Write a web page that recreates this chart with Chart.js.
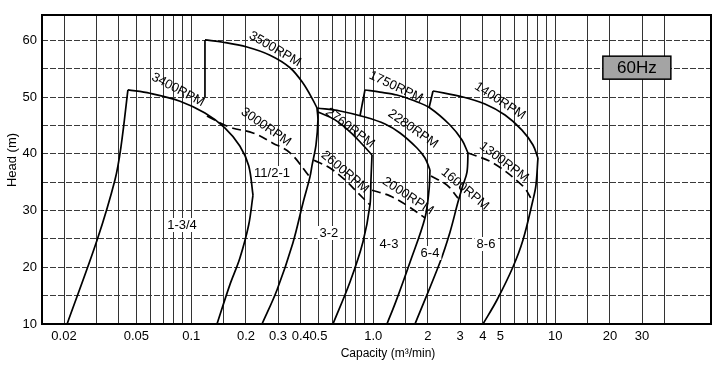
<!DOCTYPE html>
<html>
<head>
<meta charset="utf-8">
<script src="https://cdn.jsdelivr.net/npm/chart.js@4.4.1/dist/chart.umd.min.js"></script>
<style>
  html, body { margin: 0; padding: 0; background: #fff; }
  #wrap { width: 720px; height: 366px; }
</style>
</head>
<body>
<div id="wrap"><canvas id="pump-chart" width="720" height="366"></canvas></div>
<script>
// capacity axis (m3/min), log scale
const capGrid = [0.02, 0.03, 0.04, 0.05, 0.06, 0.07, 0.08, 0.09, 0.1, 0.15, 0.2, 0.3, 0.4, 0.5, 0.6, 0.7, 0.8, 0.9, 1, 1.5, 2, 3, 4, 5, 6, 7, 8, 9, 10, 15, 20, 30, 40];
const capTicks = [0.02, 0.05, 0.1, 0.2, 0.3, 0.4, 0.5, 1, 2, 3, 4, 5, 10, 20, 30];
const capTickText = ["0.02", "0.05", "0.1", "0.2", "0.3", "0.4", "0.5", "1.0", "2", "3", "4", "5", "10", "20", "30"];
// head axis (m)
const headGrid = [10, 15, 20, 25, 30, 35, 40, 45, 50, 55, 60];
const headTicks = [10, 20, 30, 40, 50, 60];

// curves: [capacity, head]
const edge134Left = [[0.0208, 10], [0.0304, 24.8], [0.0381, 35.4], [0.0411, 41.2], [0.0449, 51.3]];
const rpm3400 = [[0.0449, 51.3], [0.0593, 50.7], [0.0868, 49.3], [0.119, 47.2], [0.153, 44.6], [0.185, 41.4], [0.207, 37.9], [0.2185, 32.75]];
const edge134Right = [[0.2185, 32.75], [0.207, 27.5], [0.185, 21.6], [0.163, 16.9], [0.1386, 10]];
const rpm3000 = [[0.122, 46.7], [0.163, 44.7], [0.2185, 43.7], [0.281, 41.9], [0.349, 40.2], [0.449, 35.9]];
const edge1121Left = [[0.119, 60.1], [0.119, 50.0]];
const rpm3500 = [[0.119, 60.1], [0.1495, 59.7], [0.2025, 58.85], [0.271, 57.4], [0.349, 55.2], [0.411, 52.5], [0.467, 49.5], [0.491, 48.1]];
const edge32Left = [[0.491, 48.1], [0.497, 46.0], [0.485, 41.6], [0.462, 38.1], [0.449, 35.9], [0.411, 31.3], [0.362, 24.3], [0.296, 16.0], [0.245, 10]];
const rpm2760 = [[0.497, 47.4], [0.617, 46.0], [0.7455, 43.9], [0.868, 41.75], [0.985, 39.8]];
const edge43Left = [[0.985, 39.8], [0.972, 35.4], [0.96, 31.0], [0.879, 24.5], [0.7455, 17.4], [0.601, 10]];
const rpm2600 = [[0.473, 38.9], [0.579, 37.5], [0.70, 35.4], [0.825, 33.1], [0.96, 31.0]];
const rpm2280 = [[0.491, 48.1], [0.657, 47.57], [0.901, 46.5], [1.161, 45.27], [1.404, 43.69], [1.74, 41.04], [1.925, 39.28], [2.051, 37.16]];
const edge64Left = [[2.051, 37.16], [2.026, 33.6], [1.925, 28.7], [1.593, 20.9], [1.33, 13.9], [1.19, 10]];
const rpm2000 = [[0.985, 33.6], [1.236, 32.6], [1.553, 30.8], [1.925, 28.7]];
const edge64Top = [[0.901, 51.27], [0.846, 46.68]];
const rpm1750 = [[0.901, 51.27], [1.09, 50.9], [1.351, 50.39], [1.697, 49.33], [2.051, 48.1], [2.642, 45.1], [3.075, 42.45], [3.318, 40.16]];
const edge86Left = [[3.318, 40.16], [3.276, 36.8], [3.114, 34.5], [2.923, 31.5], [2.642, 26.2], [2.328, 20.9], [1.697, 10]];
const rpm1600 = [[2.077, 36.1], [2.544, 34.5], [2.923, 32.2]];
const edge86Top = [[2.131, 51.1], [2.026, 48.1]];
const rpm1400 = [[2.131, 51.1], [3.114, 50.04], [4.113, 48.8], [5.30, 46.86], [6.57, 44.2], [7.55, 41.57], [8.04, 39.28]];
const edge86Right = [[8.04, 39.28], [7.84, 34.5], [7.55, 31.87], [6.653, 24.8], [5.86, 20.05], [4.787, 14.23], [4.01, 10]];
const rpm1300 = [[3.318, 40.16], [4.55, 38.4], [6.653, 34.3], [7.455, 31.87]];

// text along the curves: [text, capacity, head, angle]
const rpmLabels = [
  ["3400RPM", 0.0846, 51.3, 28],
  ["3500RPM", 0.2886, 58.5, 30],
  ["3000RPM", 0.2576, 44.74, 35],
  ["2760RPM", 0.7455, 44.57, 37],
  ["2280RPM", 1.654, 44.39, 35],
  ["1750RPM", 1.334, 51.8, 25],
  ["1400RPM", 4.973, 49.33, 33],
  ["2600RPM", 0.70, 36.8, 40],
  ["2000RPM", 1.553, 32.57, 33],
  ["1600RPM", 3.194, 33.8, 40],
  ["1300RPM", 5.23, 38.57, 37]
];
const pumpLabels = [
  ["1-3/4", 0.089, 27.46],
  ["11/2-1", 0.278, 36.63],
  ["3-2", 0.571, 26.05],
  ["4-3", 1.221, 24.11],
  ["6-4", 2.051, 22.52],
  ["8-6", 4.166, 24.11]
];
const freqLabel = ["60Hz", 28.1, 55.3];

const solid = [edge134Left, rpm3400, edge134Right, edge1121Left, rpm3500, edge32Left, rpm2760, edge43Left,
  rpm2280, edge64Left, edge64Top, rpm1750, edge86Left, edge86Top, rpm1400, edge86Right];
const dashed = [rpm3000, rpm2600, rpm2000, rpm1600, rpm1300];

const FONT = "'Liberation Sans', Arial, sans-serif";
Chart.defaults.font.family = FONT;

function toSet(pts, dash) {
  return {
    data: pts.map(p => ({ x: p[0], y: p[1] })),
    showLine: true,
    borderColor: "#000",
    borderWidth: 1.7,
    borderDash: dash ? [9, 5] : [],
    pointRadius: 0,
    tension: pts.length > 2 ? 0.35 : 0,
    fill: false
  };
}

const overlay = {
  id: "overlay",
  afterDatasetsDraw(chart) {
    const { ctx, chartArea: a, scales: { x, y } } = chart;
    ctx.save();
    ctx.lineWidth = 2;
    ctx.strokeStyle = "#000";
    ctx.strokeRect(a.left, a.top, a.right - a.left, a.bottom - a.top);

    ctx.textAlign = "center";
    ctx.textBaseline = "middle";
    ctx.font = "13px " + FONT;
    ctx.fillStyle = "#000";
    rpmLabels.forEach(([t, cx, cy, ang]) => {
      ctx.save();
      ctx.translate(x.getPixelForValue(cx), y.getPixelForValue(cy));
      ctx.rotate(ang * Math.PI / 180);
      ctx.fillText(t, 0, 0);
      ctx.restore();
    });
    pumpLabels.forEach(([t, cx, cy]) => {
      const px = x.getPixelForValue(cx), py = y.getPixelForValue(cy);
      const w = ctx.measureText(t).width;
      ctx.fillStyle = "#fff";
      ctx.fillRect(px - w / 2 - 2, py - 7, w + 4, 14);
      ctx.fillStyle = "#000";
      ctx.fillText(t, px, py);
    });

    // 60Hz box
    const bx = x.getPixelForValue(freqLabel[1]), by = y.getPixelForValue(freqLabel[2]);
    ctx.fillStyle = "#a4a4a4";
    ctx.fillRect(bx - 34, by - 11, 68, 23);
    ctx.lineWidth = 1.5;
    ctx.strokeRect(bx - 34, by - 11, 68, 23);
    ctx.fillStyle = "#000";
    ctx.font = "17px " + FONT;
    ctx.fillText(freqLabel[0], bx, by + 1);

    // axis titles
    ctx.font = "12px " + FONT;
    ctx.fillText("Capacity (m\u00b3/min)", 388, 354);
    ctx.save();
    ctx.translate(12, 160);
    ctx.rotate(-Math.PI / 2);
    ctx.font = "13px " + FONT;
    ctx.fillText("Head (m)", 0, 0);
    ctx.restore();
    ctx.restore();
  }
};

new Chart(document.getElementById("pump-chart"), {
  type: "scatter",
  data: { datasets: solid.map(s => toSet(s, false)).concat(dashed.map(s => toSet(s, true))) },
  options: {
    responsive: false,
    animation: false,
    devicePixelRatio: 1,
    layout: { padding: { top: 15, right: 9, left: 0, bottom: 0 } },
    plugins: { legend: { display: false }, tooltip: { enabled: false } },
    scales: {
      x: {
        type: "logarithmic",
        min: 0.01514,
        max: 71.8,
        afterBuildTicks: s => { s.ticks = capGrid.map(v => ({ value: v })); },
        afterFit: s => { s.height = 42; },
        ticks: {
          autoSkip: false,
          maxRotation: 0,
          padding: 5,
          color: "#000",
          font: { size: 13 },
          callback: v => {
            const i = capTicks.indexOf(v);
            return i >= 0 ? capTickText[i] : "";
          }
        },
        grid: { color: "#333", lineWidth: 1, drawTicks: false },
        border: { display: false }
      },
      y: {
        type: "linear",
        min: 10,
        max: 64.5,
        afterBuildTicks: s => { s.ticks = headGrid.map(v => ({ value: v })); },
        afterFit: s => { s.width = 42; },
        ticks: {
          padding: 5,
          color: "#000",
          font: { size: 13 },
          callback: v => headTicks.includes(v) ? String(v) : ""
        },
        grid: { color: "#3a3a3a", lineWidth: 1, drawTicks: false },
        border: { display: false, dash: [6, 2] }
      }
    }
  },
  plugins: [overlay]
});
</script>
</body>
</html>
